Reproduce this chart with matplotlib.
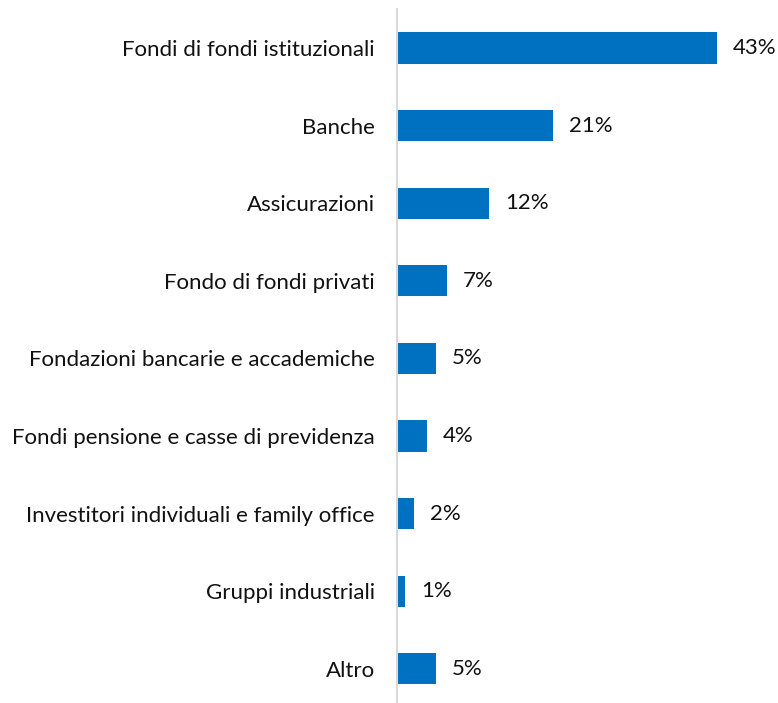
import matplotlib
matplotlib.use("Agg")
import matplotlib.pyplot as plt

categories = ["Fondi di fondi istituzionali", "Banche", "Assicurazioni",
              "Fondo di fondi privati", "Fondazioni bancarie e accademiche",
              "Fondi pensione e casse di previdenza",
              "Investitori individuali e family office",
              "Gruppi industriali", "Altro"]
values = [43.0, 21.0, 12.4, 6.7, 5.3, 4.0, 2.3, 1.1, 5.3]
labels = ["43%", "21%", "12%", "7%", "5%", "4%", "2%", "1%", "5%"]

plt.rcParams['font.family'] = ['Lato', 'DejaVu Sans']

fig = plt.figure(figsize=(7.78, 7.03), dpi=100)
ax = fig.add_axes([397/778, -4.6/703, 372/778, 698.4/703])

y = list(range(len(categories)))
ax.barh(y, values, height=0.4, color="#0070C0")
for yi, v, lab in zip(y, values, labels):
    ax.text(v + 2.1, yi, lab, va="center", ha="left", fontsize=16, color="#111111")

ax.set_ylim(len(categories) - 0.5, -0.5)
ax.set_xlim(0, 50)
ax.set_yticks(y)
ax.set_yticklabels(categories, fontsize=16, color="#111111")
ax.tick_params(axis="y", length=0, pad=16)
ax.set_xticks([])
for s in ["top", "right", "bottom"]:
    ax.spines[s].set_visible(False)
ax.spines["left"].set_color("#D9D9D9")
ax.spines["left"].set_linewidth(1.5)

fig.savefig("out.png", dpi=100)
